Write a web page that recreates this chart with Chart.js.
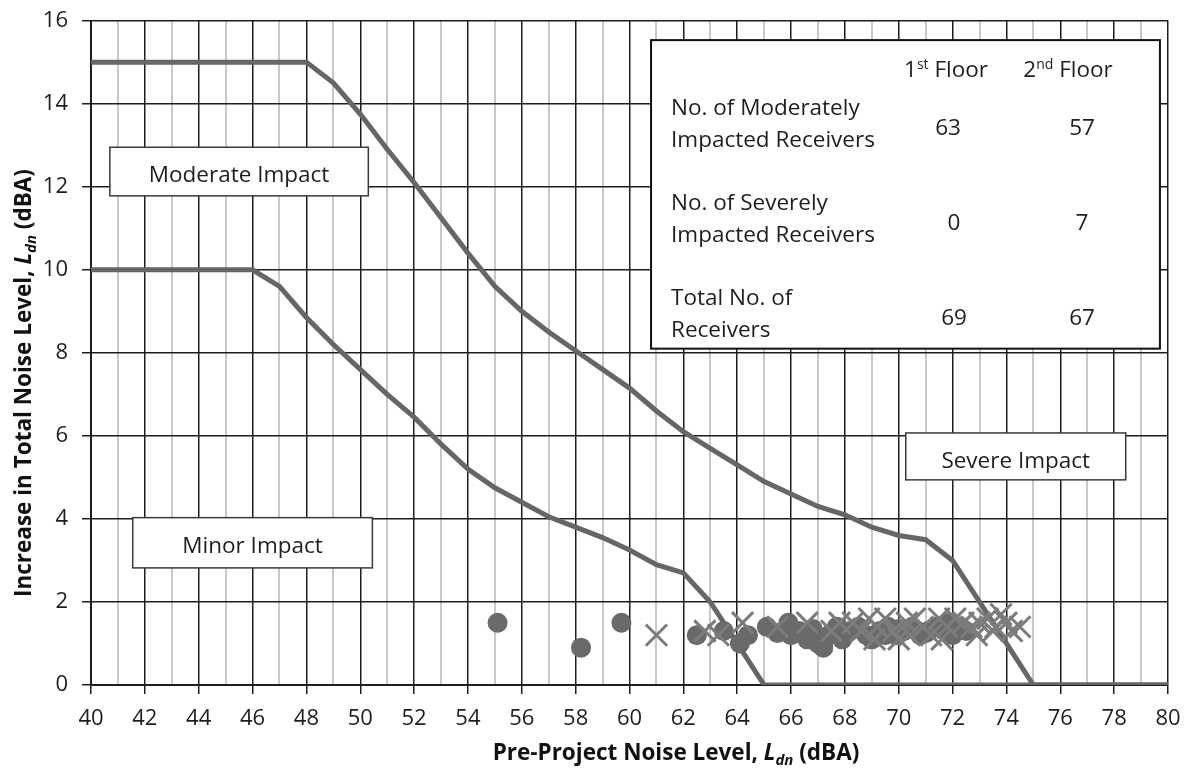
<!DOCTYPE html>
<html><head><meta charset="utf-8">
<script src="https://cdn.jsdelivr.net/npm/chart.js@4.4.0/dist/chart.umd.min.js"></script>
<style>html,body{margin:0;padding:0;background:#fff;}#wrap{width:1194px;height:768px;}</style>
</head><body><div id="wrap"><canvas id="c" width="1194" height="768"></canvas></div>
<script>
// ---- data ----
const xTickLabels = [40,42,44,46,48,50,52,54,56,58,60,62,64,66,68,70,72,74,76,78,80];
const yTickLabels = [0,2,4,6,8,10,12,14,16];

const moderateX = [40,46,47,48,49,50,51,52,53,54,55,56,57,58,59,60,61,62,63,64,65,80];
const moderateY = [10,10,9.6,8.85,8.2,7.6,7.0,6.45,5.8,5.2,4.75,4.4,4.05,3.8,3.55,3.25,2.9,2.7,2.0,1.0,0,0];

const severeX = [40,48,49,50,51,52,53,54,55,56,57,58,59,60,61,62,63,64,65,66,67,68,69,70,71,72,73,74,75,80];
const severeY = [15,15,14.5,13.75,12.9,12.1,11.25,10.4,9.6,9.0,8.5,8.05,7.6,7.15,6.6,6.1,5.7,5.3,4.9,4.6,4.3,4.1,3.8,3.6,3.5,3.0,2.0,1.0,0,0];

const floor1X = [55.1,58.2,59.7,62.5,63.5,64.1,64.4,65.1,65.5,65.9,66.0,66.3,66.6,66.8,67.0,67.2,67.4,67.7,67.9,68.0,68.2,68.5,68.8,69.0,69.3,69.5,69.6,69.9,70.0,70.2,70.5,70.7,70.8,71.0,71.1,71.4,71.7,71.9,72.0,72.3,72.5];
const floor1Y = [1.5,0.9,1.5,1.2,1.3,1.0,1.2,1.4,1.25,1.5,1.2,1.3,1.1,1.35,1.0,0.9,1.2,1.4,1.1,1.25,1.3,1.4,1.2,1.1,1.3,1.2,1.4,1.2,1.35,1.3,1.4,1.3,1.2,1.25,1.3,1.4,1.3,1.5,1.2,1.4,1.3];

const floor2X = [61.0,62.8,63.3,64.2,65.5,66.6,67.5,67.8,68.3,68.6,68.9,69.1,69.2,69.5,69.8,70.0,70.3,70.4,70.6,70.9,71.2,71.5,71.6,71.8,72.1,72.4,72.7,72.9,73.0,73.3,73.5,73.6,73.8,74.0,74.2,74.5];
const floor2Y = [1.2,1.3,1.2,1.5,1.4,1.5,1.3,1.5,1.5,1.3,1.6,1.1,1.4,1.6,1.3,1.1,1.5,1.2,1.6,1.4,1.2,1.6,1.1,1.4,1.6,1.5,1.4,1.2,1.5,1.6,1.3,1.4,1.7,1.5,1.3,1.4];

const zoneLabels = ['Moderate Impact','Minor Impact','Severe Impact'];
const tableHeaders = ['1','st',' Floor','2','nd',' Floor'];
const tableRowLabels = [['No. of Moderately','Impacted Receivers'],['No. of Severely','Impacted Receivers'],['Total No. of','Receivers']];
const tableFloor1 = [63,0,69];
const tableFloor2 = [57,7,67];

// ---- layout (not data) ----
const FONT = '"Open Sans", "Noto Sans", sans-serif';
const zoneBoxes = [ // data-space boxes
  {x0:40.7, x1:50.3, y0:12.95, y1:11.78},
  {x0:41.55,x1:50.45,y0:4.03, y1:2.82},
  {x0:70.26,x1:78.43,y0:6.07, y1:4.94}
];
const tableBox = {x0:60.8, x1:79.7, y0:15.53, y1:8.1};

const toPts = (xs, ys) => xs.map((x,i)=>({x:x, y:ys[i]}));

function drawMixed(ctx, segs, x, y, align){
  let total = 0;
  segs.forEach(s=>{ctx.font=s.f; s.w=ctx.measureText(s.t).width; total+=s.w;});
  let cx = align==='center' ? x-total/2 : x;
  segs.forEach(s=>{ctx.font=s.f; ctx.fillText(s.t, cx, y+(s.dy||0)); cx+=s.w;});
}

const overlay = {
  id:'overlay',
  afterDatasetsDraw(chart){
    const ctx = chart.ctx, xs = chart.scales.x, ys = chart.scales.y;
    ctx.save();
    ctx.textBaseline = 'alphabetic';
    zoneBoxes.forEach((b,i)=>{
      const l = xs.getPixelForValue(b.x0), r = xs.getPixelForValue(b.x1);
      const t = ys.getPixelForValue(b.y0), bt = ys.getPixelForValue(b.y1);
      ctx.fillStyle='#fff'; ctx.fillRect(l,t,r-l,bt-t);
      ctx.strokeStyle='#3a3a3a'; ctx.lineWidth=1.5; ctx.strokeRect(l,t,r-l,bt-t);
      ctx.fillStyle='#1e1e1e'; ctx.font='22.5px '+FONT; ctx.textAlign='center';
      ctx.fillText(zoneLabels[i], (l+r)/2, t+35);
    });
    const l = xs.getPixelForValue(tableBox.x0), r = xs.getPixelForValue(tableBox.x1);
    const t = ys.getPixelForValue(tableBox.y0), bt = ys.getPixelForValue(tableBox.y1);
    ctx.fillStyle='#fff'; ctx.fillRect(l,t,r-l,bt-t);
    ctx.strokeStyle='#111'; ctx.lineWidth=2; ctx.strokeRect(l,t,r-l,bt-t);
    ctx.fillStyle='#1e1e1e'; ctx.textAlign='left';
    const big='22.5px '+FONT, sup='14px '+FONT;
    const c1 = l+300, c2 = l+431;
    drawMixed(ctx,[{t:tableHeaders[0],f:big},{t:tableHeaders[1],f:sup,dy:-8},{t:tableHeaders[2],f:big}], l+295, t+37, 'center');
    drawMixed(ctx,[{t:tableHeaders[3],f:big},{t:tableHeaders[4],f:sup,dy:-8},{t:tableHeaders[5],f:big}], l+417, t+37, 'center');
    const rowTop = [75, 170, 265];
    tableRowLabels.forEach((lines,i)=>{
      ctx.font=big; ctx.textAlign='left';
      ctx.fillText(lines[0], l+20, t+rowTop[i]);
      ctx.fillText(lines[1], l+20, t+rowTop[i]+32);
      ctx.textAlign='center';
      ctx.fillText(String(tableFloor1[i]), c1+(i===0?-3:3), t+rowTop[i]+20);
      ctx.fillText(String(tableFloor2[i]), c2, t+rowTop[i]+20);
    });
    ctx.restore();
  },
  afterDraw(chart){
    const ctx = chart.ctx;
    ctx.save();
    ctx.fillStyle='#111'; ctx.textBaseline='alphabetic';
    const B='bold 22.5px '+FONT, BI='bold italic 22.5px '+FONT, SI='bold italic 15px '+FONT;
    drawMixed(ctx,[{t:'Pre-Project Noise Level, ',f:B},{t:'L',f:BI},{t:'dn',f:SI,dy:5},{t:' (dBA)',f:B}], 676, 760, 'center');
    ctx.translate(31, 383);
    ctx.rotate(-Math.PI/2);
    drawMixed(ctx,[{t:'Increase in Total Noise Level, ',f:B},{t:'L',f:BI},{t:'dn',f:SI,dy:5},{t:' (dBA)',f:B}], 0, 0, 'center');
    ctx.restore();
  }
};

new Chart(document.getElementById('c'), {
  type:'scatter',
  data:{datasets:[
    {label:'2nd Floor', data:toPts(floor2X,floor2Y), pointStyle:'crossRot', pointRadius:15, pointBorderWidth:3,
      borderColor:'#7c7c7c', backgroundColor:'#7c7c7c', order:1},
    {label:'1st Floor', data:toPts(floor1X,floor1Y), pointStyle:'circle', pointRadius:10, pointBorderWidth:0,
      borderColor:'#6a6a6a', backgroundColor:'#6a6a6a', order:2},
    {label:'Severe threshold', type:'line', data:toPts(severeX,severeY), showLine:true, borderColor:'#666', borderWidth:5,
      pointRadius:0, fill:false, tension:0, order:3},
    {label:'Moderate threshold', type:'line', data:toPts(moderateX,moderateY), showLine:true, borderColor:'#666', borderWidth:5,
      pointRadius:0, fill:false, tension:0, order:3}
  ]},
  options:{
    responsive:false, animation:false, devicePixelRatio:1,
    layout:{padding:{top:18,right:26,left:0,bottom:0}},
    plugins:{legend:{display:false}, tooltip:{enabled:false}},
    scales:{
      x:{type:'linear', min:xTickLabels[0], max:xTickLabels[xTickLabels.length-1],
        afterFit(s){s.height=83;},
        ticks:{stepSize:1, autoSkip:false, maxRotation:0, padding:12, color:'#1e1e1e', font:{family:FONT,size:22},
          callback:v=> xTickLabels.includes(v) ? String(v) : ''},
        grid:{color:c=> (c.tick && Math.abs(c.tick.value%2)===1) ? '#c8c8c8' : '#1e1e1e',
              lineWidth:c=> (c.tick && Math.abs(c.tick.value%2)===1) ? 2 : 1.5,
              tickColor:c=> (c.tick && Math.abs(c.tick.value%2)===1) ? 'rgba(0,0,0,0)' : '#1e1e1e',
              tickWidth:1.5, tickLength:9},
        border:{color:'#1e1e1e', width:2}},
      y:{type:'linear', min:yTickLabels[0], max:yTickLabels[yTickLabels.length-1],
        afterFit(s){s.width=91;},
        ticks:{stepSize:2, padding:14, color:'#1e1e1e', font:{family:FONT,size:22,lineHeight:0.6},
          callback:v=> yTickLabels.includes(v) ? String(v) : ''},
        grid:{color:'#1e1e1e', lineWidth:1.5, tickColor:'#1e1e1e', tickWidth:1.5, tickLength:9},
        border:{color:'#1e1e1e', width:2}}
    }
  },
  plugins:[overlay]
});
</script></body></html>
